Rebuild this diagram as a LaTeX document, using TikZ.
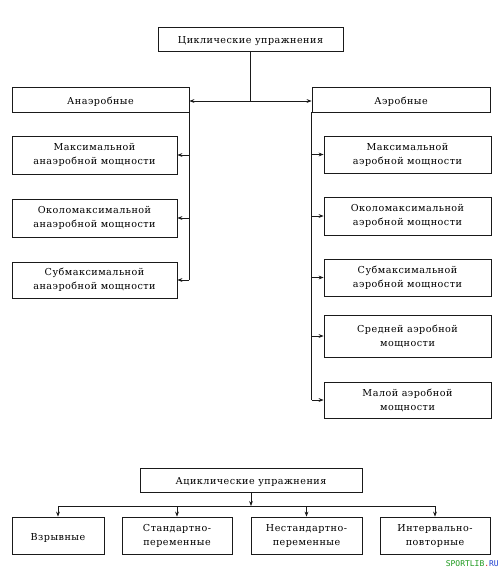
\documentclass[tikz,border=0pt]{standalone}
\usepackage{fontspec}
\setmainfont{DejaVu Serif}[LetterSpace=5]
\newfontfamily\wmfont{DejaVu Sans Mono}
\usetikzlibrary{arrows.meta}
\definecolor{ink}{HTML}{1A1A1A}
\definecolor{wmgreen}{HTML}{1E9A1E}
\definecolor{wmred}{HTML}{E02020}
\definecolor{wmblue}{HTML}{2040D0}
\tikzset{
  box/.style={draw=ink, line width=0.8pt, rectangle, inner sep=0pt, align=center,
    font=\fontsize{9.6}{14}\selectfont, text=black,
    execute at begin node={\rule{0pt}{11pt}}},
  twobox/.style={box, execute at begin node={\rule{0pt}{15pt}}},
  conn/.style={draw=ink, line width=0.7pt},
  arr/.style={conn, -{Stealth[length=5pt,width=3.8pt]}},
}
\begin{document}
\begin{tikzpicture}[x=1pt,y=-1pt]
\useasboundingbox[fill=white] (0,0) rectangle (500,571);
% cyclic
\node[box, minimum width=185, minimum height=24] (top) at (250.5,39) {Циклические упражнения};
\node[box, minimum width=177, minimum height=25] (an) at (100.5,99.5) {Анаэробные};
\node[box, minimum width=178, minimum height=25] (ae) at (401,99.5) {Аэробные};
\node[twobox, minimum width=165, minimum height=38] (l1) at (94.5,155) {Максимальной\\анаэробной мощности};
\node[twobox, minimum width=165, minimum height=38] (l2) at (94.5,218) {Околомаксимальной\\анаэробной мощности};
\node[twobox, minimum width=165, minimum height=36] (l3) at (94.5,280) {Субмаксимальной\\анаэробной мощности};
\node[twobox, minimum width=167, minimum height=37] (r1) at (407.5,154.5) {Максимальной\\аэробной мощности};
\node[twobox, minimum width=167, minimum height=38] (r2) at (407.5,216) {Околомаксимальной\\аэробной мощности};
\node[twobox, minimum width=167, minimum height=37] (r3) at (407.5,277.5) {Субмаксимальной\\аэробной мощности};
\node[twobox, minimum width=167, minimum height=42] (r4) at (407.5,336) {Средней аэробной\\мощности};
\node[twobox, minimum width=167, minimum height=36] (r5) at (407.5,400) {Малой аэробной\\мощности};
\coordinate (tj) at (250.5,101);
\draw[conn] (top.south) -- (tj);
\draw[arr] (tj) -- (tj -| an.east);
\draw[arr] (tj) -- (tj -| ae.west);
\draw[conn] (an.south east) -- (an.south east |- l3.east);
\foreach \n in {l1,l2,l3} \draw[arr] (an.south east |- \n.east) -- (\n.east);
\draw[conn] (ae.south west) -- (ae.south west |- r5.west);
\foreach \n in {r1,r2,r3,r4,r5} \draw[arr] (ae.south west |- \n.west) -- (\n.west);
% acyclic
\node[box, minimum width=222, minimum height=24] (ac) at (251,480) {Ациклические упражнения};
\node[box, minimum width=92, minimum height=37] (b1) at (58,535.5) {Взрывные};
\node[twobox, minimum width=110, minimum height=37] (b2) at (177,535.5) {Стандартно-\\переменные};
\node[twobox, minimum width=111, minimum height=37] (b3) at (306.5,535.5) {Нестандартно-\\переменные};
\node[twobox, minimum width=110, minimum height=37] (b4) at (435,535.5) {Интервально-\\повторные};
\coordinate (bj) at (ac.south |- 0,506);
\draw[arr] (ac.south) -- (bj);
\draw[conn] (b1.north |- bj) -- (b4.north |- bj);
\foreach \n in {b1,b2,b3,b4} \draw[arr] (\n.north |- bj) -- (\n.north);
% watermark
\node[anchor=base east, inner sep=0pt, font=\wmfont\fontsize{8}{8}\selectfont] (wm) at (499,566)
  {\textcolor{wmgreen}{SPORTLIB}\textcolor{wmred}{.}\textcolor{wmblue}{RU}};
\end{tikzpicture}
\end{document}
